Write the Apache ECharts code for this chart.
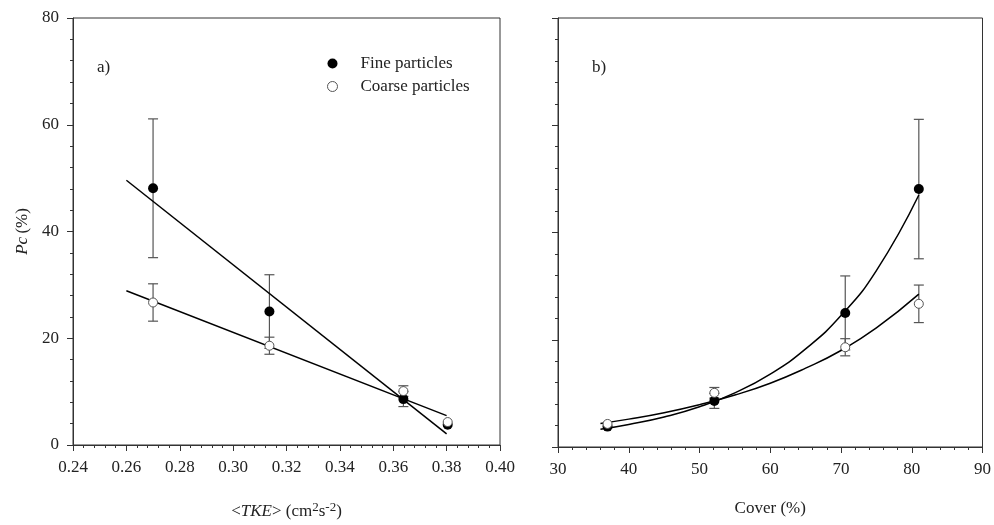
<!DOCTYPE html>
<html><head><meta charset="utf-8">
<script src="https://cdn.jsdelivr.net/npm/echarts@6/dist/echarts.min.js"></script>
<style>html,body{margin:0;padding:0;background:#fff}#c{width:994px;height:525px}</style>
</head><body><div id="c"></div>
<script>
// ---- data ----
const tke = [0.270, 0.3136, 0.3638, 0.3804];
const cover = [81.0, 70.6, 52.1, 37.0];
const fineMean = [48.1, 25.0, 8.6, 3.8];
const fineErr = [13.0, 6.9, 1.4, 0.0];
const coarseMean = [26.7, 18.6, 10.1, 4.3];
const coarseErr = [3.5, 1.6, 1.0, 0.0];
// fitted lines
const fineFitTkeX = [0.26, 0.38];
const fineFitTkeY = [49.6, 2.1];
const coarseFitTkeX = [0.26, 0.38];
const coarseFitTkeY = [28.9, 5.5];
const fitCoverX = [36, 40, 45, 50, 55, 60, 65, 70, 75, 81];
const fineFitCoverY = [3.3, 4.2, 5.6, 7.5, 10.1, 13.6, 18.3, 24.5, 32.9, 47.0];
const coarseFitCoverY = [4.4, 5.2, 6.4, 7.9, 9.7, 11.9, 14.7, 18.0, 22.2, 28.5];
const tkeTicks = ['0.24','0.26','0.28','0.30','0.32','0.34','0.36','0.38','0.40'];

const font = 'Liberation Serif';
const fs = 17;
const pairs = (xs, ys) => xs.map((x, i) => [x, ys[i]]);
const errData = (xs, m, e) => xs.map((x, i) => [x, m[i] - e[i], m[i] + e[i]]);

function errSeries(xi, yi, data) {
  return {
    type: 'custom', xAxisIndex: xi, yAxisIndex: yi, z: 2, silent: true,
    renderItem: function (params, api) {
      const x = api.value(0), lo = api.value(1), hi = api.value(2);
      if (hi - lo <= 0) return null;
      const p1 = api.coord([x, lo]), p2 = api.coord([x, hi]);
      const w = 5;
      const st = { stroke: '#555', lineWidth: 1.2 };
      return { type: 'group', children: [
        { type: 'line', shape: { x1: p1[0], y1: p1[1], x2: p2[0], y2: p2[1] }, style: st },
        { type: 'line', shape: { x1: p1[0]-w, y1: p1[1], x2: p1[0]+w, y2: p1[1] }, style: st },
        { type: 'line', shape: { x1: p2[0]-w, y1: p2[1], x2: p2[0]+w, y2: p2[1] }, style: st }
      ]};
    },
    data: data
  };
}

const axisCommon = {
  axisLine: { show: true, onZero: false, lineStyle: { color: '#333', width: 1 } },
  axisTick: { show: true, inside: false, length: 6, lineStyle: { color: '#333' } },
  minorTick: { show: true, splitNumber: 5, length: 3, lineStyle: { color: '#333' } },
  splitLine: { show: false },
  axisLabel: { color: '#222', fontFamily: font, fontSize: fs, margin: 14 }
};

const option = {
  animation: false,
  backgroundColor: '#fff',
  grid: [
    { left: 73, right: 494, top: 18, bottom: 78, show: true, borderColor: '#333', borderWidth: 1 },
    { left: 558, right: 8, top: 18, bottom: 78, show: true, borderColor: '#333', borderWidth: 1 }
  ],
  legend: {
    left: 322, top: 50, orient: 'vertical', itemGap: 6, itemWidth: 10, itemHeight: 10,
    textStyle: { fontFamily: font, fontSize: fs, color: '#222', padding: [0, 0, 0, 18] },
    data: [
      { name: 'Fine particles', icon: 'circle', itemStyle: { color: '#000', borderColor: '#000' } },
      { name: 'Coarse particles', icon: 'circle', itemStyle: { color: '#fff', borderColor: '#555', borderWidth: 1 } }
    ]
  },
  xAxis: [
    Object.assign({}, axisCommon, {
      gridIndex: 0, type: 'value', min: 0.24, max: 0.40, interval: 0.02,
      axisLabel: Object.assign({}, axisCommon.axisLabel, { formatter: v => tkeTicks[Math.round((v - 0.24) / 0.02)] }),
      name: '{n|<}{i|TKE}{n|> (cm}{s|2}{n|s}{s|-2}{n|)}', nameLocation: 'middle', nameGap: 56,
      nameTextStyle: { rich: {
        n: { fontFamily: font, fontSize: fs, color: '#222' },
        i: { fontFamily: font, fontSize: fs, fontStyle: 'italic', color: '#222' },
        s: { fontFamily: font, fontSize: 13, color: '#222', verticalAlign: 'top', padding: [0, 0, 8, 0] }
      } }
    }),
    Object.assign({}, axisCommon, {
      gridIndex: 1, type: 'value', min: 30, max: 90, interval: 10,
      name: 'Cover (%)', nameLocation: 'middle', nameGap: 53,
      nameTextStyle: { fontFamily: font, fontSize: fs, color: '#222' }
    })
  ],
  yAxis: [
    Object.assign({}, axisCommon, {
      gridIndex: 0, type: 'value', min: 0, max: 80, interval: 20,
      name: '{i|Pc} {n|(%)}', nameLocation: 'middle', nameGap: 42, nameRotate: 90,
      nameTextStyle: { rich: {
        n: { fontFamily: font, fontSize: fs, color: '#222' },
        i: { fontFamily: font, fontSize: fs, fontStyle: 'italic', color: '#222' }
      } }
    }),
    Object.assign({}, axisCommon, {
      gridIndex: 1, type: 'value', min: 0, max: 80, interval: 20,
      axisLabel: { show: false }
    })
  ],
  graphic: [
    { type: 'text', left: 97, top: 59, style: { text: 'a)', fontFamily: font, fontSize: fs, fill: '#222' } },
    { type: 'text', left: 592, top: 59, style: { text: 'b)', fontFamily: font, fontSize: fs, fill: '#222' } }
  ],
  series: [
    { type: 'line', xAxisIndex: 0, yAxisIndex: 0, data: pairs(fineFitTkeX, fineFitTkeY), showSymbol: false, silent: true, lineStyle: { color: '#000', width: 1.5 }, z: 3 },
    { type: 'line', xAxisIndex: 0, yAxisIndex: 0, data: pairs(coarseFitTkeX, coarseFitTkeY), showSymbol: false, silent: true, lineStyle: { color: '#000', width: 1.5 }, z: 3 },
    errSeries(0, 0, errData(tke, fineMean, fineErr)),
    errSeries(0, 0, errData(tke, coarseMean, coarseErr)),
    { name: 'Fine particles', type: 'scatter', xAxisIndex: 0, yAxisIndex: 0, data: pairs(tke, fineMean), symbol: 'circle', symbolSize: 10, itemStyle: { color: '#000', opacity: 1 }, z: 5 },
    { name: 'Coarse particles', type: 'scatter', xAxisIndex: 0, yAxisIndex: 0, data: pairs(tke, coarseMean), symbol: 'circle', symbolSize: 9, itemStyle: { color: '#fff', borderColor: '#555', borderWidth: 1, opacity: 1 }, z: 6 },

    { type: 'line', xAxisIndex: 1, yAxisIndex: 1, data: pairs(fitCoverX, fineFitCoverY), smooth: true, showSymbol: false, silent: true, lineStyle: { color: '#000', width: 1.5 }, z: 3 },
    { type: 'line', xAxisIndex: 1, yAxisIndex: 1, data: pairs(fitCoverX, coarseFitCoverY), smooth: true, showSymbol: false, silent: true, lineStyle: { color: '#000', width: 1.5 }, z: 3 },
    errSeries(1, 1, errData(cover, fineMean, fineErr)),
    errSeries(1, 1, errData(cover, coarseMean, coarseErr)),
    { name: 'Fine particles', type: 'scatter', xAxisIndex: 1, yAxisIndex: 1, data: pairs(cover, fineMean), symbol: 'circle', symbolSize: 10, itemStyle: { color: '#000', opacity: 1 }, z: 5 },
    { name: 'Coarse particles', type: 'scatter', xAxisIndex: 1, yAxisIndex: 1, data: pairs(cover, coarseMean), symbol: 'circle', symbolSize: 9, itemStyle: { color: '#fff', borderColor: '#555', borderWidth: 1, opacity: 1 }, z: 6 }
  ]
};
echarts.init(document.getElementById('c'), null, { renderer: 'canvas' }).setOption(option);
</script></body></html>
